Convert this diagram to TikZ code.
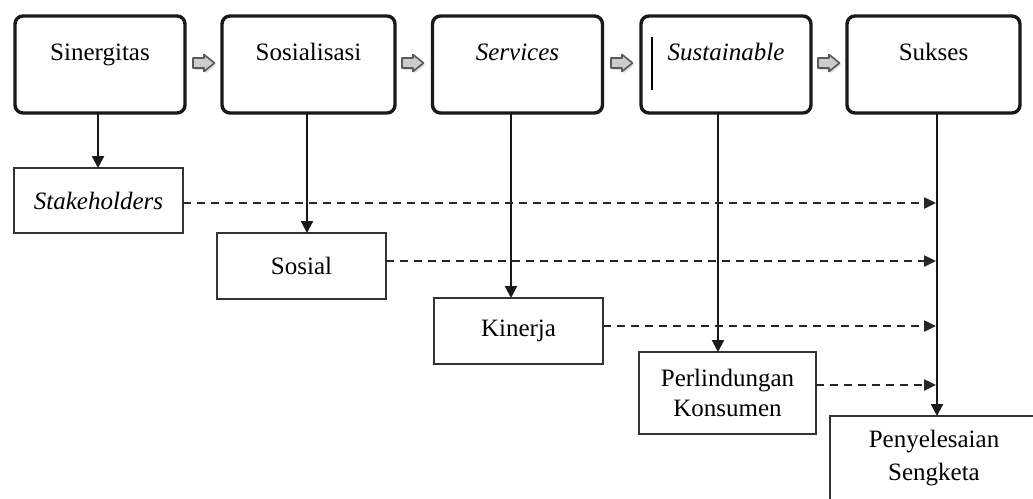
\documentclass[tikz,border=0pt]{standalone}
\usepackage{fontspec}
\setmainfont{Liberation Serif}
\usetikzlibrary{arrows.meta,calc}
\begin{document}
\begin{tikzpicture}[x=0.5pt,y=-0.5pt,
  topbox/.style={draw=black!90,line width=1.7pt,rounded corners=4pt,minimum width=85pt,minimum height=48.5pt,inner sep=0pt,outer sep=0pt},
  lowbox/.style={draw=black!80,line width=1pt,inner sep=0pt,outer sep=0pt,align=center,font=\fontsize{12.5pt}{15pt}\selectfont},
  toptext/.style={anchor=base,yshift=-22pt,font=\fontsize{12.5pt}{15pt}\selectfont},
  flowarrow/.style={draw=black!65,fill=black!20,line width=0.8pt,line join=round},
  flowshadow/.style={fill=black!25,opacity=0.5},
  downarrow/.style={draw=black!90,line width=1.1pt,-{Triangle[length=6pt,width=6pt]}},
  dashline/.style={draw=black!85,line width=1.2pt,dash pattern=on 4pt off 3pt,-{Triangle[length=6pt,width=5.5pt]}}
]
\clip (0,0) rectangle (1033,498);
\fill[white] (0,0) rectangle (1033,498);
% top boxes
\node[topbox,label={[toptext]north:Sinergitas}] (b1) at (100,64.5) {};
\node[topbox,minimum width=86.5pt,label={[toptext]north:Sosialisasi}] (b2) at (308.5,64.5) {};
\node[topbox,label={[toptext]north:\textit{Services}}] (b3) at (517.5,64.5) {};
\node[topbox,label={[toptext]north:\textit{Sustainable}}] (b4) at (726,64.5) {};
\node[topbox,minimum width=86.5pt,label={[toptext]north:Sukses}] (b5) at (933.5,64.5) {};
\draw[line width=0.7pt] (652,37) -- (652,90);
% gray block arrows between the top boxes
\foreach \cx in {204,413,622,829}{
  \fill[flowshadow] (\cx-9.5,60) -- (\cx+1.5,60) -- (\cx+1.5,56.5) -- (\cx+12,65) -- (\cx+1.5,73.5) -- (\cx+1.5,70) -- (\cx-9.5,70) -- cycle;
  \filldraw[flowarrow] (\cx-11,58) -- (\cx,58) -- (\cx,54.5) -- (\cx+10.5,63) -- (\cx,71.5) -- (\cx,68) -- (\cx-11,68) -- cycle;
}
% lower boxes
\node[lowbox,minimum width=84.5pt,minimum height=32.5pt] (stk) at (98.5,200.5) {\textit{Stakeholders}};
\node[lowbox,minimum width=84.5pt,minimum height=33pt] (sos) at (301.5,266) {Sosial};
\node[lowbox,minimum width=84.5pt,minimum height=33pt] (kin) at (518.5,331) {Kinerja};
\node[lowbox,minimum width=88.5pt,minimum height=41pt] (per) at (727.5,393) {Perlindungan\\Konsumen};
\node[lowbox,minimum width=104pt,minimum height=60pt,label={[anchor=base,yshift=-32pt,align=center,font=\fontsize{12.5pt}{16.5pt}\selectfont]north:Penyelesaian\\Sengketa}] (pen) at (934,476) {};
% vertical connectors
\draw[downarrow] ([xshift=-1pt]b1.south) -- ([xshift=-1pt]b1.south |- stk.north);
\draw[downarrow] ([xshift=-0.75pt]b2.south) -- ([xshift=-0.75pt]b2.south |- sos.north);
\draw[downarrow] ([xshift=-3.25pt]b3.south) -- ([xshift=-3.25pt]b3.south |- kin.north);
\draw[downarrow] ([xshift=-4pt]b4.south) -- ([xshift=-4pt]b4.south |- per.north);
\draw[downarrow] ([xshift=1.75pt]b5.south) -- ([xshift=1.75pt]b5.south |- pen.north);
% dashed connectors
\coordinate (t1) at (936,203);
\coordinate (t2) at (936,261);
\coordinate (t3) at (936,326);
\coordinate (t4) at (936,385);
\draw[dashline] (stk.east |- t1) -- (t1);
\draw[dashline] (sos.east |- t2) -- (t2);
\draw[dashline] (kin.east |- t3) -- (t3);
\draw[dashline] (per.east |- t4) -- (t4);
\end{tikzpicture}
\end{document}
